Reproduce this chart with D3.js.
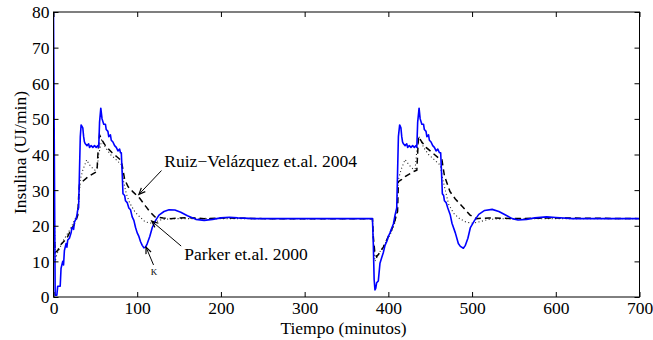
<!DOCTYPE html>
<html><head><meta charset="utf-8">
<script src="https://cdn.jsdelivr.net/npm/d3@7"></script>
<style>body{margin:0;background:#fff}svg{display:block}text{font-family:"Liberation Serif","Times New Roman",serif;}</style>
</head><body><svg id="c" width="653" height="340"></svg>
<script>
// ---- data ----
const xTicks = [0,100,200,300,400,500,600,700];
const yTicks = [0,10,20,30,40,50,60,70,80];
const xLabel = "Tiempo (minutos)";
const yLabel = "Insulina (UI/min)";

// Blue: controller of this work  [time (min), insulin (UI/min)]
const blue = [[0,80],[1,40],[2,0.5],[4,0.5],[5,3],[8,3],[9,8],[11,10],[12,9],[13,13],[15,15],[16,14],[17,16],[19,16.5],[21,18],[22,19.5],[24,19],[25,21],[27,22],[28,23],[29,24.5],[30,25],[31,35],[32,45],[33,48.3],[35,47.5],[36,45],[37,43.5],[38,43],[40,42.5],[42,43],[43,42],[45,42.5],[47,42],[49,42.5],[51,42],[53,42.5],[54,42],[55,49],[56.5,53],[58,50],[60,48.5],[62,48.5],[63,47],[65,46.5],[66,45],[68,45.5],[69,44],[71,43.5],[73,42.5],[75,42],[77,41],[79,41.5],[80,40.5],[81,40.5],[82,35],[83,29],[85,28.5],[86,27],[88,26.5],[90,25],[92,24.5],[94,22.5],[96,21.5],[98,19.5],[100,18],[102,17],[104,15.5],[106,14.5],[108,13.8],[110,14],[112,15],[115,17],[118,19.5],[122,21.5],[126,23],[132,24],[138,24.5],[145,24.4],[152,23.8],[160,22.8],[170,21.8],[180,21.5],[190,21.8],[200,22.2],[210,22.4],[220,22.2],[240,22],[270,22],[300,22],[330,22],[360,22],[381,22],
  [382,15],[383,5],[384,2],[385,2.5],[386,4],[388,4.5],[390,9.5],[392,11],[394,12.5],[396,14.5],[398,15.5],[400,17],[402,18],[404,19.3],[406,20.5],[408,23],[410,25],[411,35],[412,45],[413.5,48.3],[415,47.5],[416,45],[417,43.5],[418,43],[420,42.5],[422,43],[423,42],[425,42.5],[427,42],[429,42.5],[431,42],[433,42.5],[434,42],[435,49],[436.7,53],[438,50],[440,48.5],[442,48.5],[443,47],[445,46.5],[446,45],[448,45.5],[449,44],[451,43.5],[453,42.5],[455,42],[457,41],[459,41.5],[461,40.5],[462.5,40.5],[463.5,35],[464.5,29],[466,28.5],[467,27],[469,26.5],[471,25],[474,23],[476,20.7],[480,18],[483.6,15],[486,14.2],[489.6,13.7],[492,14.5],[495,16.5],[498,19.5],[503,21.5],[508,23.2],[515,24.3],[524,24.6],[532,24],[540,23],[548,22],[555,21.6],[565,21.8],[575,22.2],[589,22.5],[600,22.3],[620,22],[650,22],[680,22],[700,22]];

// Ruiz-Velázquez et.al. 2004 (dashed)
const ruiz = [[0,21],[2,12.5],[5,13],[8,14.5],[12,15.5],[16,16.5],[20,18.5],[24,20],[27,21.5],[29,23],[30,28],[31,31.5],[35,32.5],[40,33.5],[45,34.3],[50,35],[52,35.5],[53,40],[55,45.5],[58,44],[62,42.5],[66,41.5],[70,40.5],[75,39.5],[80,38.5],[82,37],[85,33],[89,31],[95,29.5],[103,27.7],[110,25.5],[115,24],[121,22.5],[131,22.2],[140,22],[160,22.3],[180,22],[200,22.2],[250,22],[300,22],[381,22],
  [382,17],[384,12],[386,11.3],[390,12.5],[394,14],[398,16],[402,18],[406,20],[408,21.6],[411,24],[412,32.4],[416,33],[420,33.8],[425,34.5],[430,35.2],[434,35.6],[436,45],[440,43.5],[445,42],[450,41],[455,40],[460,39],[464,38.5],[467,34],[473.6,29.6],[480,27.5],[490,25],[497.6,23],[505,22],[520,22.2],[550,22],[600,22.2],[700,22]];

// Parker et.al. 2000 (dotted)
const parker = [[0,40],[2,10],[4,12],[8,14],[12,16],[16,17.5],[20,19],[24,21],[28,23],[30,26],[32,33],[35,35.6],[39.6,38.5],[42,37.5],[45,36.5],[49.6,35.6],[52,36],[54,40],[57.6,44],[62,42],[68,40],[75,38.5],[81.5,37],[84,32],[87,29],[91,26.4],[97,24],[103,22.5],[109,21.2],[115,20.7],[121,21],[127,21.6],[140,22],[160,22],[200,22],[381,22],
  [382,16],[384,10],[388,12],[392,13.5],[396,15],[400,16.5],[404,18.5],[408,21],[410,25],[412,33],[415,35.6],[420,38.6],[425,37],[430,35.8],[432,36],[434,41],[437,45],[442,42],[448,40],[455,38.5],[462,37],[465,33],[468,30],[472,26],[478,23.5],[485,22],[493,21],[501,20.7],[510,21.2],[520,21.8],[540,22],[700,22]];

// annotations (data coordinates)
const annRuiz = {text:"Ruiz\u2212Velázquez et.al. 2004", tx:132.4, ty:36.6, from:[129,35.5], to:[102,28.8]};
const annParker = {text:"Parker et.al. 2000", tx:156.3, ty:10.4, from:[152.5,14.3], to:[117.3,21.3]};
const annK = {text:"K", tx:120, ty:6.2, from:[119.5,9.0], to:[110.5,14.0]};

// ---- chart ----
const W=653,H=340,m={l:53.5,r:13.5,t:12,b:43};
const fs=17.5;
const svg=d3.select("#c");
const x=d3.scaleLinear().domain([0,700]).range([m.l,W-m.r]);
const y=d3.scaleLinear().domain([0,80]).range([H-m.b,m.t]);

svg.append("clipPath").attr("id","clp").append("rect")
  .attr("x",m.l).attr("y",m.t).attr("width",W-m.l-m.r).attr("height",H-m.t-m.b);

const line=d3.line().x(d=>x(d[0])).y(d=>y(d[1]));
const g=svg.append("g").attr("clip-path","url(#clp)");
g.append("path").datum(parker).attr("d",line)
  .attr("fill","none").attr("stroke","#222").attr("stroke-width",1.1).attr("stroke-dasharray","1,2.5");
g.append("path").datum(ruiz).attr("d",line)
  .attr("fill","none").attr("stroke","#000").attr("stroke-width",1.5).attr("stroke-dasharray","6,4");
g.append("path").datum(blue).attr("d",line)
  .attr("fill","none").attr("stroke","#0000ff").attr("stroke-width",1.6).attr("stroke-linejoin","round");

// axes
const axB=svg.append("g").attr("transform",`translate(0,${H-m.b})`)
  .call(d3.axisBottom(x).tickValues(xTicks).tickSizeInner(-5).tickSizeOuter(0).tickPadding(5));
const axL=svg.append("g").attr("transform",`translate(${m.l},0)`)
  .call(d3.axisLeft(y).tickValues(yTicks).tickSizeInner(-5).tickSizeOuter(0).tickPadding(4));
const axT=svg.append("g").attr("transform",`translate(0,${m.t})`)
  .call(d3.axisTop(x).tickValues(xTicks).tickSizeInner(-5).tickSizeOuter(0).tickFormat(""));
const axR=svg.append("g").attr("transform",`translate(${W-m.r},0)`)
  .call(d3.axisRight(y).tickValues(yTicks).tickSizeInner(-5).tickSizeOuter(0).tickFormat(""));
[axB,axL,axT,axR].forEach(a=>{
  a.attr("font-family",null).attr("font-size",null);
  a.select(".domain").remove();
  a.selectAll("line").attr("stroke","#000");
  a.selectAll("text").style("font-family","'Liberation Serif',serif").style("font-size",fs+"px").attr("fill","#000");
});
axL.selectAll("text").attr("dy","0.34em");
axB.selectAll("text").attr("dy","0.71em");
svg.append("rect").attr("x",m.l).attr("y",m.t).attr("width",W-m.l-m.r).attr("height",H-m.t-m.b)
  .attr("fill","none").attr("stroke","#000").attr("stroke-width",1);

svg.append("text").attr("x",x(350)-3).attr("y",334).attr("text-anchor","middle")
  .style("font-size",fs+"px").text(xLabel);
svg.append("text").attr("transform",`translate(25.5,${y(40)-2}) rotate(-90)`).attr("text-anchor","middle")
  .style("font-size",fs+"px").text(yLabel);

// annotations
function arrow(a){
  const x1=x(a.from[0]),y1=y(a.from[1]),x2=x(a.to[0]),y2=y(a.to[1]);
  svg.append("line").attr("x1",x1).attr("y1",y1).attr("x2",x2).attr("y2",y2).attr("stroke","#000").attr("stroke-width",1);
  const ang=Math.atan2(y2-y1,x2-x1),L=7,sp=0.4;
  const p=[[x2-L*Math.cos(ang-sp),y2-L*Math.sin(ang-sp)],[x2,y2],[x2-L*Math.cos(ang+sp),y2-L*Math.sin(ang+sp)]];
  svg.append("path").attr("d",d3.line()(p)).attr("fill","none").attr("stroke","#000").attr("stroke-width",1.2);
}
[annRuiz,annParker].forEach(a=>{
  svg.append("text").attr("x",x(a.tx)).attr("y",y(a.ty)).style("font-size",fs+"px").text(a.text);
  arrow(a);
});
arrow(annK);
svg.append("text").attr("x",x(annK.tx)).attr("y",y(annK.ty)).attr("text-anchor","middle")
  .style("font-size","9px").text(annK.text);
</script></body></html>
